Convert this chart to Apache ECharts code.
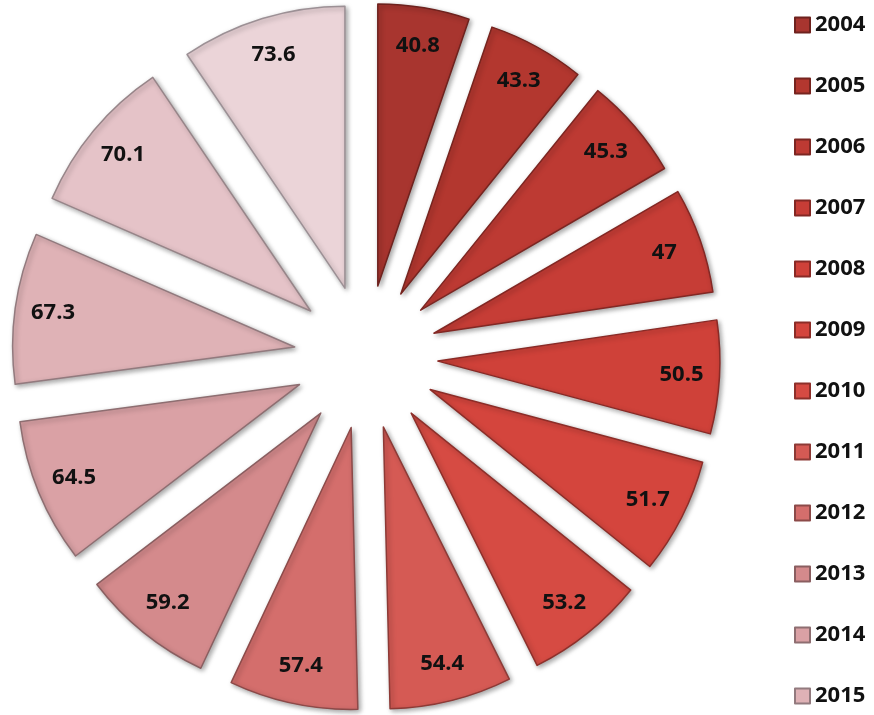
<!DOCTYPE html>
<html>
<head>
<meta charset="utf-8">
<script src="https://cdn.jsdelivr.net/npm/echarts@6/dist/echarts.min.js"></script>
<style>html,body{margin:0;padding:0;background:#fff}#c{width:874px;height:715px}</style>
</head>
<body>
<div id="c"></div>
<script>
var years = ['2004','2005','2006','2007','2008','2009','2010','2011','2012','2013','2014','2015','2016','2017'];
var values = [40.8, 43.3, 45.3, 47, 50.5, 51.7, 53.2, 54.4, 57.4, 59.2, 64.5, 67.3, 70.1, 73.6];
var colors = ['#a8352f','#b3372f','#bd3a33','#c63d36','#cf4139','#d4453d','#d64b43','#d55a54','#d46e6c','#d48a8c','#daa1a5','#dfb2b6','#e5c3c8','#ebd4d8'];
var borders = ['#6e221e','#76241f','#7c2622','#832824','#892a26','#8c2d28','#8e302b','#8d3a36','#8c4a49','#8a5e60','#8e6e71','#927a7e','#978589','#9c9095'];

var mainData = years.map(function (y, i) {
  return {
    name: y, value: values[i], selected: true,
    itemStyle: { color: colors[i], borderColor: borders[i] }
  };
});
var labelData = years.map(function (y, i) {
  return { name: y, value: values[i], selected: true };
});

var chart = echarts.init(document.getElementById('c'));
chart.setOption({
  animation: false,
  legend: {
    orient: 'vertical',
    left: 789,
    top: 9,
    itemWidth: 15,
    itemHeight: 15,
    itemGap: 39,
    icon: 'rect',
    data: years,
    textStyle: { fontFamily: 'Open Sans', fontWeight: 700, fontSize: 22, color: '#111', lineHeight: 22 },
    selectedMode: false
  },
  series: [
    {
      type: 'pie',
      center: [366, 357],
      radius: [0, 282],
      startAngle: 90,
      clockwise: true,
      selectedMode: 'multiple',
      selectedOffset: 72,
      avoidLabelOverlap: false,
      label: { show: false },
      labelLine: { show: false },
      emphasis: { disabled: true },
      itemStyle: {
        borderWidth: 1.5,
        shadowBlur: 5,
        shadowOffsetX: 2,
        shadowOffsetY: 2,
        shadowColor: 'rgba(0,0,0,0.35)'
      },
      select: { itemStyle: { borderWidth: 1.5 } },
      data: mainData
    },
    {
      type: 'pie',
      center: [366, 357],
      radius: [200, 282],
      startAngle: 90,
      clockwise: true,
      selectedMode: 'multiple',
      selectedOffset: 72,
      silent: true,
      avoidLabelOverlap: false,
      itemStyle: { color: 'rgba(0,0,0,0)', borderWidth: 0 },
      select: { itemStyle: { color: 'rgba(0,0,0,0)', borderWidth: 0 } },
      emphasis: { disabled: true },
      label: {
        show: true,
        position: 'inside',
        formatter: '{c}',
        fontFamily: 'Open Sans',
        fontWeight: 700,
        fontSize: 22,
        color: '#111'
      },
      labelLine: { show: false },
      data: labelData
    }
  ]
});
</script>
</body>
</html>
